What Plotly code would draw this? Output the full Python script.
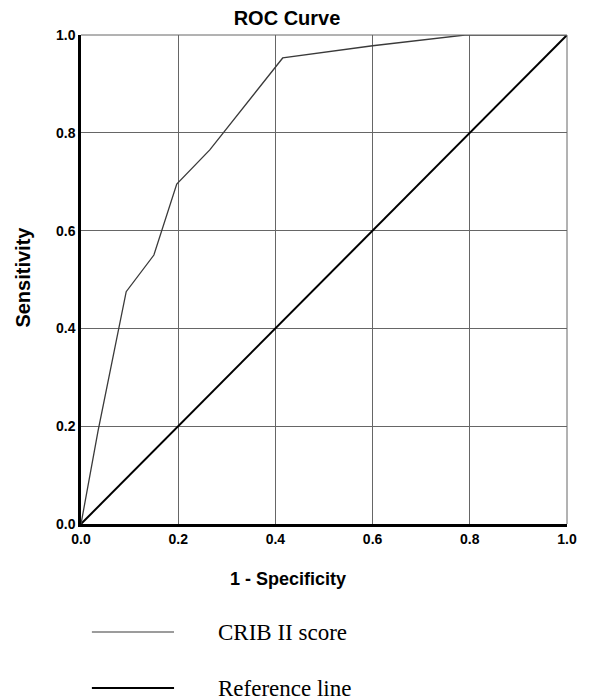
import plotly.graph_objects as go

fpr = [0.0, 0.035, 0.093, 0.15, 0.197, 0.265, 0.415, 0.6, 0.79, 1.0]
tpr = [0.0, 0.19, 0.475, 0.55, 0.695, 0.765, 0.953, 0.978, 1.0, 1.0]
ref_x = [0.0, 1.0]
ref_y = [0.0, 1.0]
tick_vals = [0.0, 0.2, 0.4, 0.6, 0.8, 1.0]
tick_text = ["0.0", "0.2", "0.4", "0.6", "0.8", "1.0"]
series_names = ["CRIB II score", "Reference line"]

fig = go.Figure()
fig.add_trace(go.Scatter(x=ref_x, y=ref_y, mode="lines", name=series_names[1],
                         line=dict(color="#000000", width=2), showlegend=False))
fig.add_trace(go.Scatter(x=fpr, y=tpr, mode="lines", name=series_names[0],
                         line=dict(color="#3a3a3a", width=1.3), showlegend=False))

sans = "Liberation Sans, Arial, sans-serif"
bold = dict(family=sans, size=14, color="#000", weight="bold")
common = dict(range=[0, 1], tickvals=tick_vals, ticktext=tick_text, tickfont=bold,
              showgrid=True, gridcolor="#666", gridwidth=1, zeroline=False,
              showline=True, linecolor="#000", linewidth=2.5, ticks="", ticklen=0)
fig.update_xaxes(**common)
fig.update_yaxes(**common)

# top and right frame lines (grid at 1.0)
fig.add_shape(type="line", xref="paper", yref="paper", x0=0, x1=1, y0=1, y1=1, line=dict(color="#666", width=1))
fig.add_shape(type="line", xref="paper", yref="paper", x0=1, x1=1, y0=0, y1=1, line=dict(color="#666", width=1))

# plot area in window pixels: x 81..572, y 35..524
L, R, T, B = 81, 572, 35, 524
PW, PH = R - L, B - T
title_font = dict(family=sans, size=18, color="#000", weight="bold")
fig.add_annotation(xref="paper", yref="paper", x=(290 - L) / PW, y=(B - 579) / PH, text="1 - Specificity",
                   showarrow=False, xanchor="center", yanchor="middle", font=title_font)
fig.add_annotation(xref="paper", yref="paper", x=(22 - L) / PW, y=(B - 277) / PH, text="Sensitivity",
                   showarrow=False, xanchor="center", yanchor="middle", textangle=-90,
                   font=dict(family=sans, size=20, color="#000", weight="bold"))

# legend drawn below
serif = dict(family="Liberation Serif, Times New Roman, serif", size=23, color="#000")
leg_y = [(B - 632) / PH, (B - 688) / PH]
leg_w = [1.2, 2]
leg_c = ["#3a3a3a", "#000"]
for name, yy, w, c in zip(series_names, leg_y, leg_w, leg_c):
    fig.add_shape(type="line", xref="paper", yref="paper", x0=(92 - L) / PW, x1=(175 - L) / PW, y0=yy, y1=yy,
                  line=dict(color=c, width=w))
    fig.add_annotation(xref="paper", yref="paper", x=(217 - L) / PW, y=yy, text=name, showarrow=False,
                       xanchor="left", yanchor="middle", font=serif)

fig.update_layout(
    width=589, height=700,
    margin=dict(l=L, r=589 - R, t=T, b=700 - B),
    paper_bgcolor="white", plot_bgcolor="white",
    title=dict(text="ROC Curve", x=287 / 589, xanchor="center", y=1 - 18 / 700, yanchor="middle",
               font=dict(family=sans, size=20, color="#000", weight="bold")),
    showlegend=False,
)

fig.write_html("out.html", config={"displayModeBar": False},
               post_script="document.body.style.margin='0';document.body.style.overflow='hidden';")
